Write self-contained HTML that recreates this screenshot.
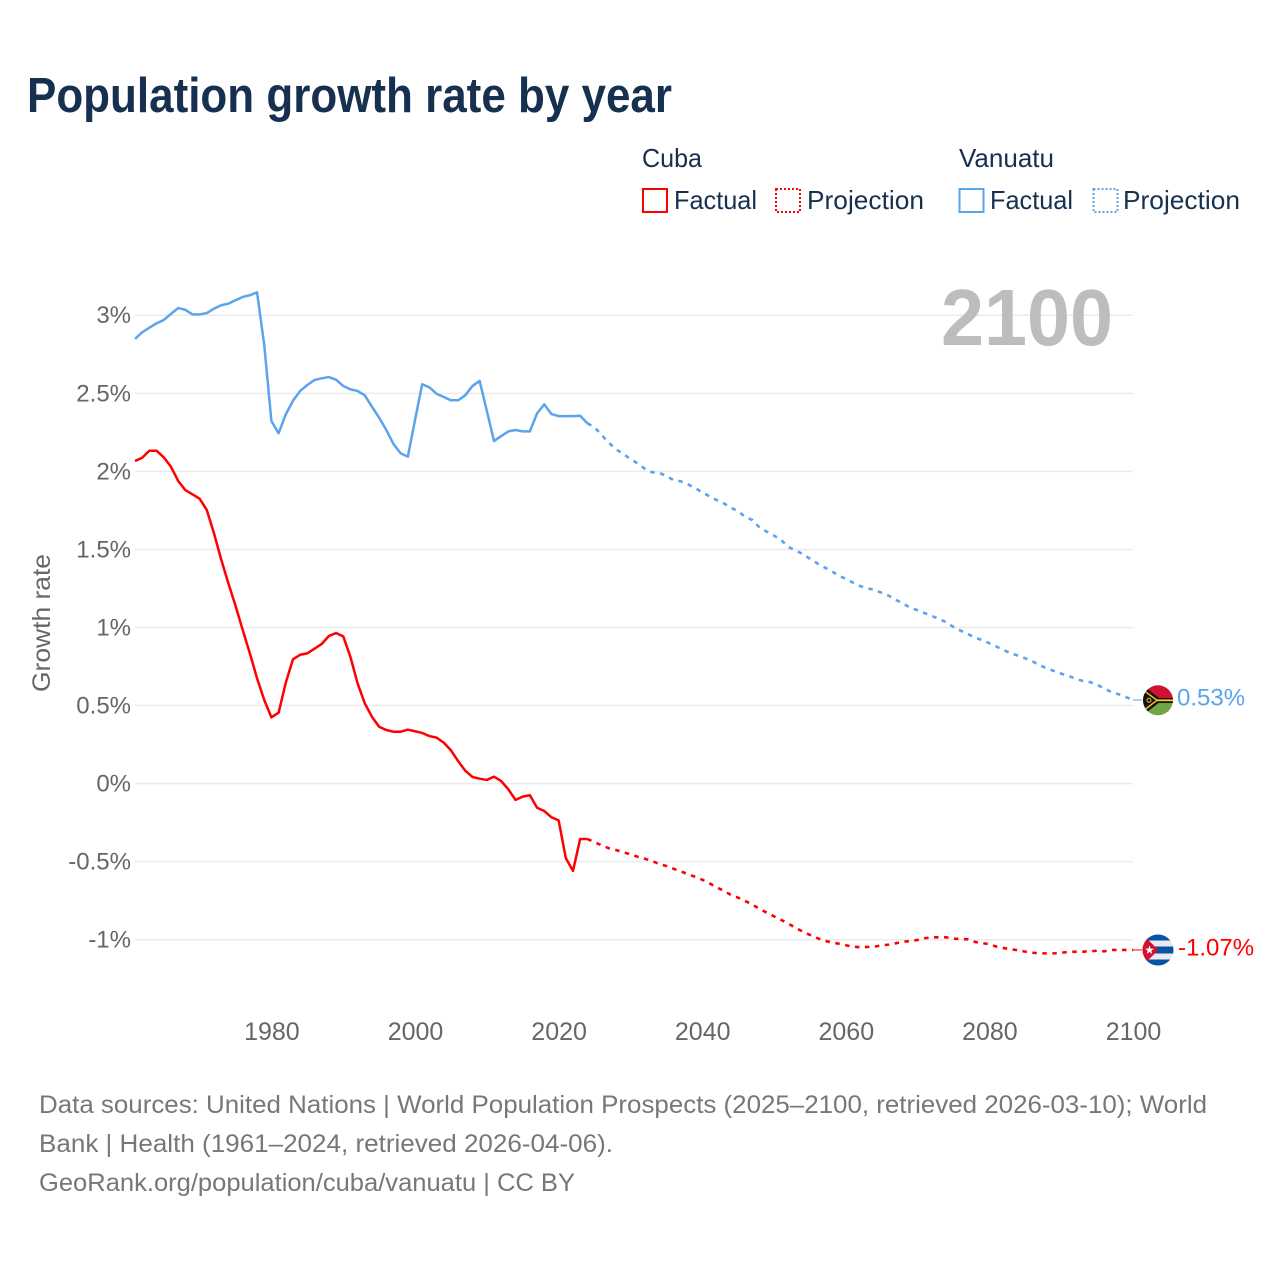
<!DOCTYPE html>
<html lang="en">
<head>
<meta charset="utf-8">
<title>Population growth rate by year</title>
<style>
html,body{margin:0;padding:0;background:#fff;}
svg{display:block;font-family:"Liberation Sans",sans-serif;}
</style>
</head>
<body>
<svg id="chart" xmlns="http://www.w3.org/2000/svg" width="1280" height="1280" viewBox="0 0 1280 1280">
  <defs>
    <clipPath id="clip-vu"><circle cx="1158" cy="700.3" r="15"/></clipPath>
    <clipPath id="clip-cu"><circle cx="1158" cy="950" r="15.5"/></clipPath>
  </defs>
  <rect width="1280" height="1280" fill="#fff"/>
  <text x="27" y="112" font-size="49" font-weight="700" fill="#17304f" textLength="645" lengthAdjust="spacingAndGlyphs">Population growth rate by year</text>

  <g font-size="26" fill="#17304f">
    <text x="642" y="167" textLength="60" lengthAdjust="spacingAndGlyphs">Cuba</text>
    <text x="959" y="167" textLength="95" lengthAdjust="spacingAndGlyphs">Vanuatu</text>
    <g>
      <rect x="643" y="189" width="24" height="23" fill="none" stroke="#ff0000" stroke-width="2"/>
      <text x="674" y="209" textLength="83" lengthAdjust="spacingAndGlyphs">Factual</text>
    </g>
    <g>
      <rect x="776" y="189" width="24" height="23" fill="none" stroke="#ff0000" stroke-width="2" stroke-dasharray="2 2"/>
      <text x="807" y="209" textLength="117" lengthAdjust="spacingAndGlyphs">Projection</text>
    </g>
    <g>
      <rect x="959.5" y="189" width="24" height="23" fill="none" stroke="#5ba4ec" stroke-width="2"/>
      <text x="990" y="209" textLength="83" lengthAdjust="spacingAndGlyphs">Factual</text>
    </g>
    <g>
      <rect x="1093.5" y="189" width="24" height="23" fill="none" stroke="#5ba4ec" stroke-width="2" stroke-dasharray="2 2"/>
      <text x="1123" y="209" textLength="117" lengthAdjust="spacingAndGlyphs">Projection</text>
    </g>
  </g>

  <g id="grid"></g>
  <g id="y-axis"></g>
  <g id="x-axis"></g>
  <text transform="translate(50,623) rotate(-90)" text-anchor="middle" font-size="25" fill="#666" textLength="138" lengthAdjust="spacingAndGlyphs">Growth rate</text>
  <text x="941" y="345" font-size="80" font-weight="700" fill="#bdbdbd" textLength="172" lengthAdjust="spacingAndGlyphs">2100</text>

  <g id="series"></g>

  <g clip-path="url(#clip-vu)">
    <rect x="1142" y="685" width="32" height="15.5" fill="#d21034"/>
    <rect x="1142" y="700" width="32" height="16" fill="#6fa544"/>
    <rect x="1150" y="698" width="24" height="5" fill="#111"/>
    <polygon points="1142,685 1162,700.3 1142,716" fill="#111"/>
    <polyline points="1143,690 1157,700.3 1143,711" fill="none" stroke="#f5c518" stroke-width="1.5"/>
    <line x1="1157" y1="700.3" x2="1174" y2="700.3" stroke="#f5c518" stroke-width="1.8"/>
    <circle cx="1149" cy="700.3" r="2" fill="none" stroke="#f5c518" stroke-width="1"/>
  </g>
  <g clip-path="url(#clip-cu)">
    <rect x="1142" y="934" width="32" height="32" fill="#e8eaee"/>
    <rect x="1142" y="934" width="32" height="6.5" fill="#0a51a8"/>
    <rect x="1142" y="946.5" width="32" height="7" fill="#0a51a8"/>
    <rect x="1142" y="959.5" width="32" height="7" fill="#0a51a8"/>
    <polygon points="1142,934 1158.5,950 1142,966" fill="#d2102f"/>
    <polygon points="1149.5,945.5 1150.6,948.6 1153.9,948.7 1151.3,950.7 1152.2,953.9 1149.5,952 1146.8,953.9 1147.7,950.7 1145.1,948.7 1148.4,948.6" fill="#fff"/>
  </g>
  <g id="end-labels"></g>

  <g font-size="25" fill="#777">
    <text x="39" y="1113" textLength="1168" lengthAdjust="spacingAndGlyphs">Data sources: United Nations | World Population Prospects (2025–2100, retrieved 2026-03-10); World</text>
    <text x="39" y="1152" textLength="574" lengthAdjust="spacingAndGlyphs">Bank | Health (1961–2024, retrieved 2026-04-06).</text>
    <text x="39" y="1191" textLength="536" lengthAdjust="spacingAndGlyphs">GeoRank.org/population/cuba/vanuatu | CC BY</text>
  </g>
</svg>
<script>
const factualStartYear = 1961;
const projectionStartYear = 2024;
const xTickYears = [1980, 2000, 2020, 2040, 2060, 2080, 2100];
const yTickValues = [3, 2.5, 2, 1.5, 1, 0.5, 0, -0.5, -1];
const yTickLabels = ['3%', '2.5%', '2%', '1.5%', '1%', '0.5%', '0%', '-0.5%', '-1%'];
const vanuatuFactual = [2.851,2.894,2.923,2.951,2.972,3.011,3.049,3.038,3.009,3.008,3.017,3.045,3.067,3.077,3.099,3.120,3.131,3.150,2.812,2.325,2.247,2.368,2.455,2.518,2.556,2.588,2.599,2.607,2.590,2.550,2.528,2.518,2.490,2.417,2.347,2.268,2.178,2.118,2.097,2.332,2.561,2.541,2.500,2.479,2.458,2.458,2.490,2.550,2.582,2.391,2.197,2.229,2.259,2.268,2.259,2.259,2.375,2.432,2.370,2.357,2.357,2.357,2.359,2.311];
const vanuatuProjection = [2.311,2.285,2.236,2.186,2.144,2.114,2.082,2.054,2.020,1.997,1.994,1.973,1.947,1.939,1.920,1.896,1.869,1.843,1.819,1.798,1.770,1.747,1.710,1.691,1.642,1.616,1.591,1.563,1.518,1.497,1.473,1.443,1.414,1.388,1.365,1.334,1.315,1.290,1.268,1.254,1.243,1.225,1.206,1.179,1.155,1.129,1.113,1.094,1.076,1.057,1.036,1.006,0.982,0.961,0.937,0.922,0.901,0.880,0.858,0.837,0.822,0.805,0.786,0.760,0.741,0.724,0.707,0.692,0.675,0.660,0.653,0.636,0.611,0.589,0.575,0.557,0.538];
const cubaFactual = [2.069,2.090,2.135,2.135,2.093,2.033,1.943,1.883,1.856,1.828,1.755,1.606,1.439,1.286,1.142,0.987,0.837,0.677,0.538,0.427,0.457,0.649,0.799,0.828,0.837,0.867,0.897,0.948,0.967,0.946,0.815,0.645,0.517,0.431,0.367,0.346,0.335,0.335,0.348,0.338,0.327,0.307,0.297,0.265,0.216,0.147,0.085,0.045,0.034,0.026,0.047,0.019,-0.034,-0.102,-0.081,-0.072,-0.152,-0.173,-0.213,-0.233,-0.474,-0.557,-0.352,-0.352];
const cubaProjection = [-0.352,-0.373,-0.393,-0.412,-0.423,-0.438,-0.450,-0.466,-0.479,-0.493,-0.512,-0.525,-0.543,-0.559,-0.578,-0.594,-0.613,-0.636,-0.662,-0.684,-0.711,-0.728,-0.750,-0.773,-0.801,-0.824,-0.848,-0.871,-0.895,-0.921,-0.946,-0.967,-0.987,-1.004,-1.014,-1.023,-1.033,-1.042,-1.046,-1.044,-1.042,-1.033,-1.029,-1.020,-1.010,-1.006,-0.999,-0.988,-0.982,-0.982,-0.982,-0.991,-0.993,-0.995,-1.012,-1.019,-1.027,-1.042,-1.051,-1.059,-1.065,-1.074,-1.081,-1.085,-1.085,-1.085,-1.081,-1.076,-1.074,-1.074,-1.072,-1.068,-1.072,-1.063,-1.063,-1.063,-1.063];
const vanuatuEndLabel = '0.53%';
const cubaEndLabel = '-1.07%';

const NS = 'http://www.w3.org/2000/svg';
function xScale(year) { return 135 + (year - 1961) * 7.18; }
function yScale(value) { return 784 - value * 156.1; }
function pathFrom(values, startYear) {
  return values.map(function (v, i) {
    return (i ? 'L' : 'M') + xScale(startYear + i).toFixed(2) + ' ' + yScale(v).toFixed(2);
  }).join('');
}
function make(tag, attrs, parent, content) {
  const el = document.createElementNS(NS, tag);
  Object.keys(attrs).forEach(function (k) { el.setAttribute(k, attrs[k]); });
  if (content !== undefined) el.textContent = content;
  parent.appendChild(el);
  return el;
}

const grid = document.getElementById('grid');
const yAxis = document.getElementById('y-axis');
yTickValues.forEach(function (v, i) {
  const line = make('line', { x1: 135, x2: 1133, y1: yScale(v) - 0.4, y2: yScale(v) - 0.4, stroke: '#ebebeb', 'stroke-width': 1.5 }, grid);
  
  
  const label = make('text', { x: 131, y: yScale(v) + 7.5, 'text-anchor': 'end', 'font-size': 24, fill: '#666' }, yAxis, yTickLabels[i]);
  
  
});

const xAxis = document.getElementById('x-axis');
xTickYears.forEach(function (year) {
  const label = make('text', { x: xScale(year) + 0.5, y: 1040, 'text-anchor': 'middle', 'font-size': 25, fill: '#666' }, xAxis, String(year));
  
  
});

const seriesGroup = document.getElementById('series');
const redColor = '#ff0000';
const blueColor = '#5ba4ec';

const vanuatuFactualLine = make('path', { d: pathFrom(vanuatuFactual, factualStartYear), fill: 'none', stroke: blueColor, 'stroke-width': 2.5, 'stroke-linejoin': 'round' }, seriesGroup);



const vanuatuProjectionLine = make('path', { d: pathFrom(vanuatuProjection, projectionStartYear), fill: 'none', stroke: blueColor, 'stroke-width': 2.6, 'stroke-dasharray': '4.5 5.5' }, seriesGroup);



const cubaFactualLine = make('path', { d: pathFrom(cubaFactual, factualStartYear), fill: 'none', stroke: redColor, 'stroke-width': 2.5, 'stroke-linejoin': 'round' }, seriesGroup);



const cubaProjectionLine = make('path', { d: pathFrom(cubaProjection, projectionStartYear), fill: 'none', stroke: redColor, 'stroke-width': 2.6, 'stroke-dasharray': '4.5 5.5' }, seriesGroup);



const endLabels = document.getElementById('end-labels');
const vanuatuLastY = yScale(vanuatuProjection[vanuatuProjection.length - 1]);
const cubaLastY = yScale(cubaProjection[cubaProjection.length - 1]);

const vanuatuLeader = make('line', { x1: 1133, x2: 1142, y1: vanuatuLastY, y2: vanuatuLastY, stroke: blueColor, 'stroke-width': 1 }, endLabels);



const cubaLeader = make('line', { x1: 1133, x2: 1142, y1: cubaLastY, y2: cubaLastY, stroke: redColor, 'stroke-width': 1 }, endLabels);



const vanuatuValue = make('text', { x: 1177, y: vanuatuLastY + 5.5, 'font-size': 24, fill: blueColor }, endLabels, vanuatuEndLabel);



const cubaValue = make('text', { x: 1178, y: cubaLastY + 5.5, 'font-size': 24, fill: redColor }, endLabels, cubaEndLabel);


</script>
</body>
</html>
